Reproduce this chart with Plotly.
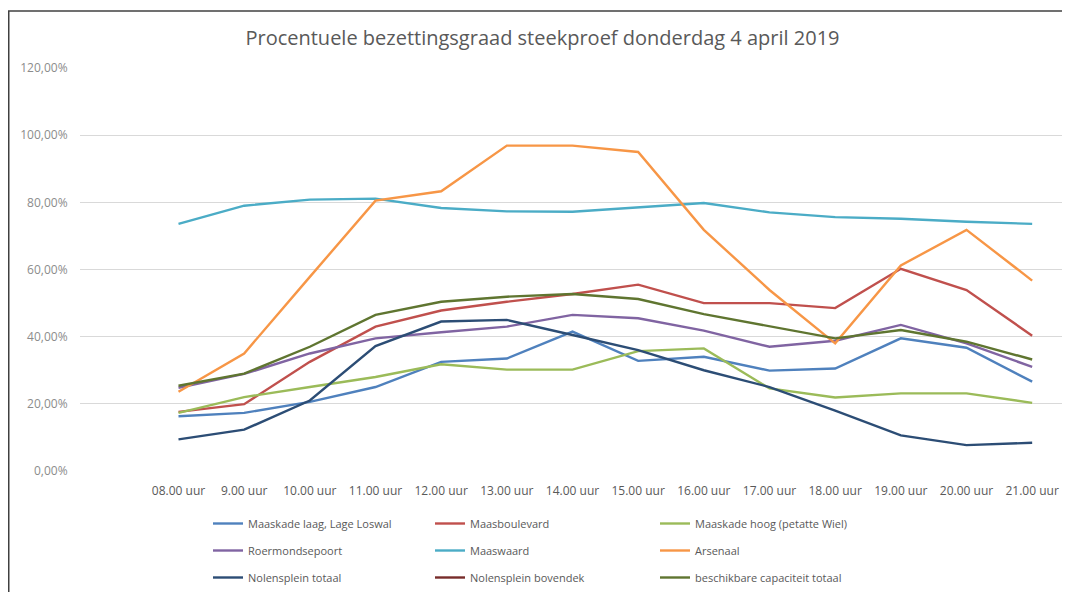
import plotly.graph_objects as go

categories = ["08.00 uur", "9.00 uur", "10.00 uur", "11.00 uur", "12.00 uur", "13.00 uur",
              "14.00 uur", "15.00 uur", "16.00 uur", "17.00 uur", "18.00 uur", "19.00 uur",
              "20.00 uur", "21.00 uur"]

maaskade_laag = [16.3, 17.3, 20.6, 25.0, 32.5, 33.5, 41.5, 32.8, 34.0, 29.9, 30.5, 39.5, 36.7, 26.6]
maasboulevard = [17.6, 19.9, 32.5, 43.0, 47.8, 50.4, 52.7, 55.5, 50.0, 50.0, 48.5, 60.2, 53.9, 40.3]
maaskade_hoog = [17.3, 22.0, 25.0, 28.0, 31.8, 30.2, 30.2, 35.7, 36.5, 24.6, 21.9, 23.1, 23.1, 20.3]
roermondsepoort = [24.8, 28.9, 35.0, 39.5, 41.3, 43.0, 46.5, 45.5, 41.8, 37.0, 38.8, 43.5, 38.0, 31.0]
maaswaard = [73.6, 79.0, 80.8, 81.1, 78.3, 77.3, 77.2, 78.6, 79.8, 77.0, 75.6, 75.1, 74.2, 73.6]
arsenaal = [23.6, 35.0, 57.8, 80.5, 83.3, 96.9, 96.9, 95.0, 71.8, 53.9, 38.0, 61.2, 71.8, 56.7]
nolensplein_totaal = [9.4, 12.3, 21.0, 37.2, 44.5, 45.0, 40.5, 36.0, 30.0, 25.0, 18.0, 10.6, 7.7, 8.4]
nolensplein_bovendek = [None] * 14
capaciteit_totaal = [25.4, 29.0, 37.0, 46.5, 50.4, 51.9, 52.7, 51.2, 46.7, 43.0, 39.5, 42.0, 38.5, 33.2]

series = [
    ("Maaskade laag, Lage Loswal", maaskade_laag, "#4F81BD", "legend"),
    ("Maasboulevard", maasboulevard, "#C0504D", "legend2"),
    ("Maaskade hoog (petatte Wiel)", maaskade_hoog, "#9BBB59", "legend3"),
    ("Roermondsepoort", roermondsepoort, "#8064A2", "legend"),
    ("Maaswaard", maaswaard, "#4BACC6", "legend2"),
    ("Arsenaal", arsenaal, "#F79646", "legend3"),
    ("Nolensplein totaal", nolensplein_totaal, "#2C4D75", "legend"),
    ("Nolensplein bovendek", nolensplein_bovendek, "#772C2A", "legend2"),
    ("beschikbare capaciteit totaal", capaciteit_totaal, "#5F7530", "legend3"),
]

y_ticks = [0, 20, 40, 60, 80, 100, 120]
y_ticktext = ["0,00%", "20,00%", "40,00%", "60,00%", "80,00%", "100,00%", "120,00%"]

fig = go.Figure()
for i, (name, vals, color, leg) in enumerate(series):
    fig.add_trace(go.Scatter(
        x=categories, y=vals, name=name, mode="lines",
        line=dict(color=color, width=2.4),
        legend=leg, legendgroup=f"g{i}", connectgaps=False,
    ))

# plot area (page is shown with an 8px body offset)
L, T, W, H = 72, 60, 985, 403
FW, FH = 1070, 592

def px(x):
    return (x - L) / W

def py(y):
    return (T + H - y) / H

legend_common = dict(
    orientation="v", xanchor="left", yanchor="top",
    font=dict(family="Open Sans", size=11, color="#595959"),
    bgcolor="rgba(0,0,0,0)", tracegroupgap=8, itemwidth=30,
)

border = dict(color="#404040", width=1.5)

fig.update_layout(
    width=FW, height=FH,
    margin=dict(l=L, r=FW - L - W, t=T, b=FH - T - H, autoexpand=False),
    paper_bgcolor="white", plot_bgcolor="white",
    title=dict(text="Procentuele bezettingsgraad steekproef donderdag 4 april 2019",
               x=534.5 / FW, xanchor="center", y=1 - 30 / FH, yanchor="middle",
               font=dict(family="Open Sans", size=20, color="#595959")),
    xaxis=dict(type="category", range=[-1.5, 13.5], showgrid=False, zeroline=False,
               showline=False, ticks="outside", ticklen=9, tickcolor="rgba(0,0,0,0)",
               tickangle=0,
               tickfont=dict(family="Open Sans", size=12, color="#595959")),
    yaxis=dict(range=[0, 120], tickvals=y_ticks, ticktext=y_ticktext,
               showgrid=True, gridcolor="#D9D9D9", gridwidth=1, zeroline=False,
               showline=False, ticks="outside", ticklen=9, tickcolor="rgba(0,0,0,0)",
               tickfont=dict(family="Open Sans", size=12, color="#8C8C8C")),
    legend=dict(x=px(200), y=py(501), **legend_common),
    legend2=dict(x=px(422), y=py(501), **legend_common),
    legend3=dict(x=px(647), y=py(501), **legend_common),
    showlegend=True,
    shapes=[
        dict(type="line", xref="paper", yref="paper",
             x0=px(0.75), x1=px(0.75), y0=py(620), y1=py(3), line=border),
        dict(type="line", xref="paper", yref="paper",
             x0=px(0), x1=px(1090), y0=py(3), y1=py(3), line=border),
    ],
)

fig.write_html("out.html")
